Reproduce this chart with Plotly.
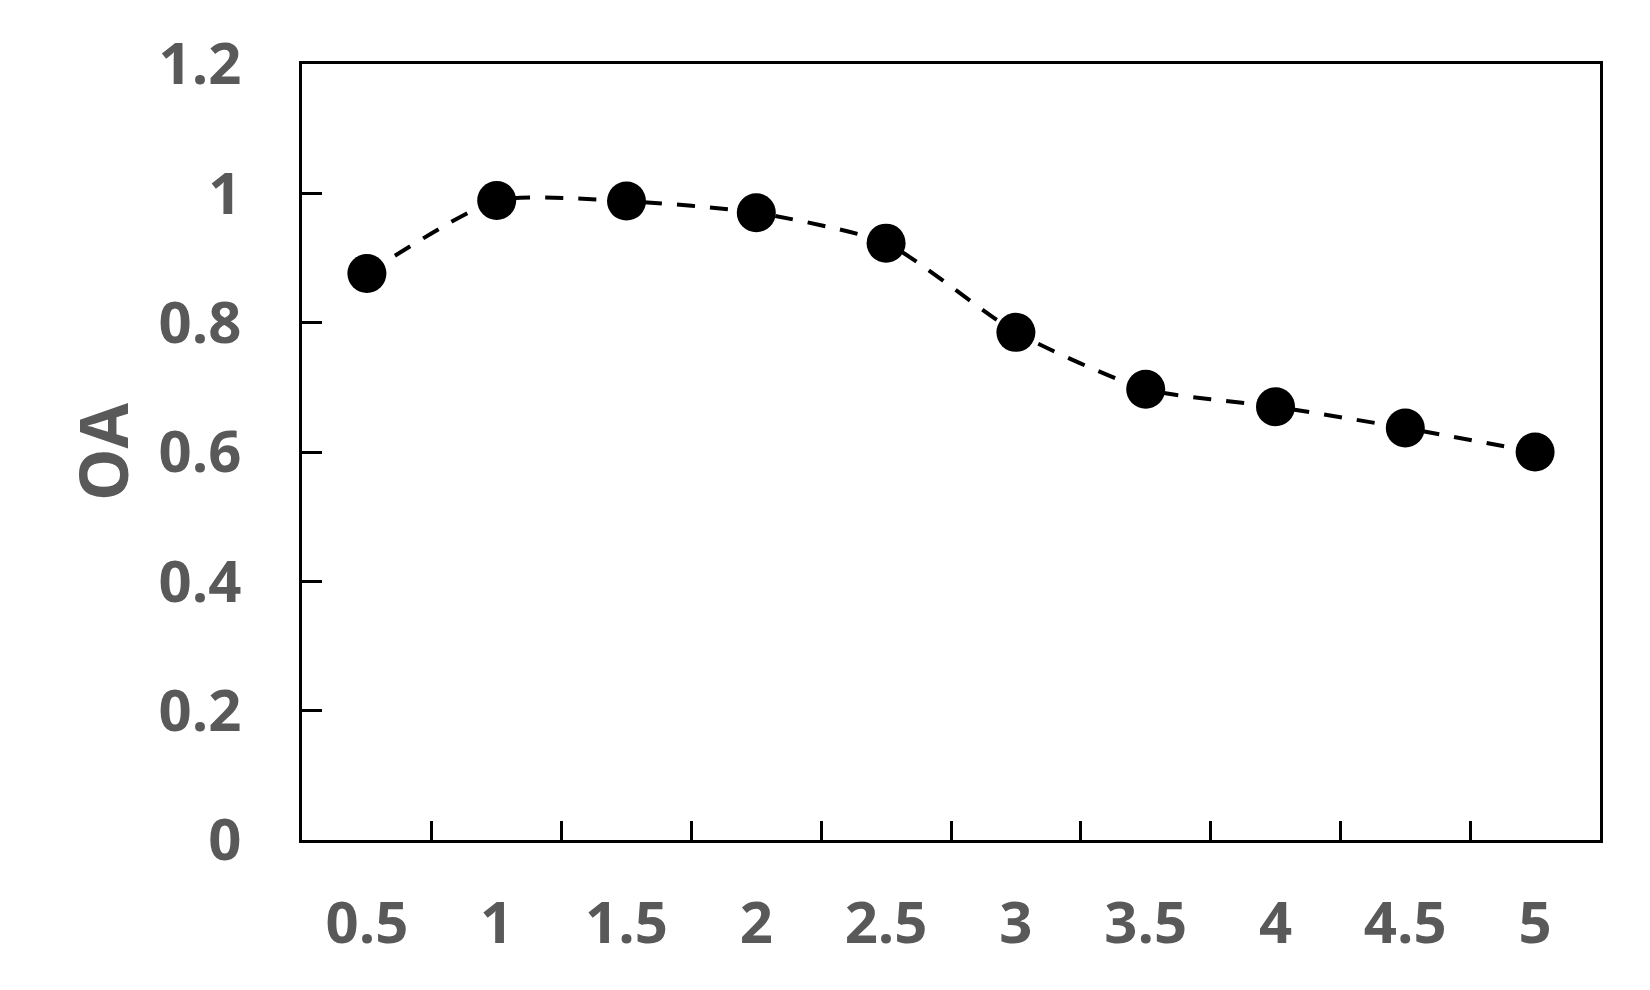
import plotly.graph_objects as go

categories = ["0.5", "1", "1.5", "2", "2.5", "3", "3.5", "4", "4.5", "5"]
oa_values = [0.876, 0.989, 0.988, 0.970, 0.923, 0.785, 0.697, 0.670, 0.637, 0.600]
y_ticks = [0, 0.2, 0.4, 0.6, 0.8, 1.0, 1.2]

fig = go.Figure()
fig.add_trace(go.Scatter(
    x=categories, y=oa_values, mode="lines+markers",
    line=dict(color="black", width=4, dash="18px,15px", shape="spline", smoothing=0.6),
    marker=dict(color="black", size=39),
    showlegend=False,
))

FONT = "Open Sans, Lato, sans-serif"
tick_font = dict(family=FONT, size=58, color="#595959", weight="bold")

fig.update_layout(
    width=1634, height=974,
    margin=dict(l=294, r=42, t=56, b=142),
    paper_bgcolor="white", plot_bgcolor="white",
    font=dict(family=FONT, color="#595959", weight="bold"),
    xaxis=dict(
        type="category", tickson="boundaries", ticks="inside", ticklen=19, tickwidth=3,
        tickcolor="black", showline=True, linecolor="black", linewidth=3, mirror=True,
        showgrid=False, zeroline=False, tickfont=tick_font, ticklabelstandoff=30,
        range=[-0.5, 9.5],
    ),
    yaxis=dict(
        range=[0, 1.2], tickvals=y_ticks, ticks="inside", ticklen=20, tickwidth=3,
        tickcolor="black", showline=True, linecolor="black", linewidth=3, mirror=True,
        showgrid=False, zeroline=False, tickfont=tick_font, ticklabelstandoff=46,
        title=dict(text="OA", font=dict(family=FONT, size=66, color="#595959", weight="bold"), standoff=9),
    ),
)

fig.write_html("out.html")
